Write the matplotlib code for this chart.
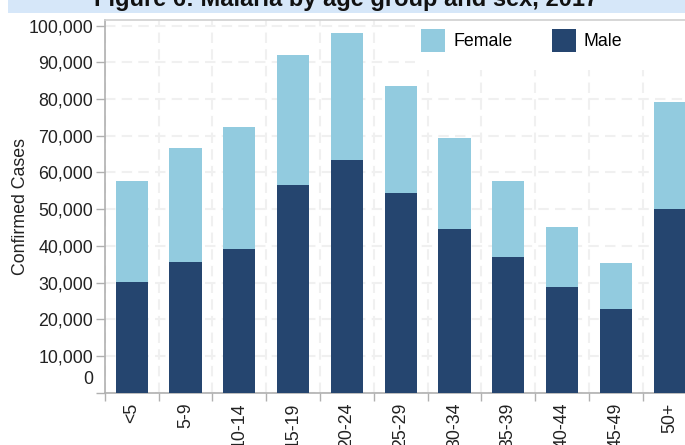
import matplotlib
matplotlib.use("Agg")
import matplotlib.pyplot as plt
from matplotlib.patches import Rectangle
from matplotlib.ticker import FuncFormatter
import numpy as np

# Data
age_groups = ["<5", "5-9", "10-14", "15-19", "20-24", "25-29",
              "30-34", "35-39", "40-44", "45-49", "50+"]
male = [30200, 35600, 39150, 56600, 63400, 54450,
        44600, 37000, 28800, 22800, 50000]
female_total = [57700, 66700, 72400, 92000, 98000, 83600,
                69400, 57700, 45150, 35350, 79200]
female = [t - m for t, m in zip(female_total, male)]
y_ticks = list(range(0, 100001, 10000))

LIGHT = "#92cbdf"
DARK = "#25456f"
GRID = "#f0f0f0"
AXIS = "#b0b0b0"
FS = 12.8

plt.rcParams["font.family"] = ["Liberation Sans", "DejaVu Sans"]

W, H = 685, 445
fig = plt.figure(figsize=(W / 100, H / 100), dpi=100)

# axes in pixel geometry (plot runs past right edge like the original)
left, right, top, bottom = 104.8, 696.6, 19.7, 392.7
ax = fig.add_axes([left / W, 1 - bottom / H, (right - left) / W, (bottom - top) / H])

x = np.arange(len(age_groups))
ax.bar(x, male, width=0.6, color=DARK, label="Male", zorder=3)
ax.bar(x, female, width=0.6, bottom=male, color=LIGHT, label="Female", zorder=3)

ax.set_xlim(-0.5, len(age_groups) - 0.5)
ax.set_ylim(0, 101600)

# y axis
ax.set_yticks(y_ticks)
ax.yaxis.set_major_formatter(FuncFormatter(lambda v, p: "" if v == 0 else f"{int(v):,}"))
ax.tick_params(axis="y", length=6.5, width=1, color=AXIS, pad=2, labelsize=FS, labelcolor="#222222")
ax.annotate("0", xy=(0, 0), xycoords=("axes fraction", "data"),
            xytext=(-12, 13), textcoords="offset pixels",
            ha="right", va="center", fontsize=FS, color="#222222")
ax.set_ylabel("Confirmed Cases", fontsize=FS, labelpad=-0.5, color="#222222")

# x axis: ticks at boundaries, labels at centres
ax.set_xticks(np.arange(len(age_groups) + 1) - 0.5)
ax.set_xticklabels([])
ax.set_xticks(x, minor=True)
ax.set_xticklabels(age_groups, minor=True, rotation=90, fontsize=FS, color="#222222")
ax.tick_params(axis="x", which="major", length=6, width=1, color=AXIS)
ax.tick_params(axis="x", which="minor", length=0, pad=7)

ax.grid(True, which="major", color=GRID, linestyle=(0, (5, 3)), linewidth=1.5, zorder=0)
ax.set_axisbelow(True)

for s in ["left", "bottom", "top"]:
    ax.spines[s].set_color(AXIS)
    ax.spines[s].set_linewidth(1.2)
ax.spines["top"].set_color("#d0d0d0")
ax.spines["right"].set_visible(False)

# white backing behind the legend
ax.add_patch(Rectangle(((415 - left) / (right - left), 1 - (70 - top) / (bottom - top)),
                       1, 1, transform=ax.transAxes, facecolor="white",
                       edgecolor="none", zorder=2))

handles, labels = ax.get_legend_handles_labels()
leg = ax.legend(handles[::-1], labels[::-1], ncol=2, loc="upper left",
                bbox_to_anchor=(416 / W, 1 - 24 / H), bbox_transform=fig.transFigure,
                frameon=False, fontsize=FS, handlelength=1.35, handleheight=1.55,
                handletextpad=0.45, columnspacing=2.2, borderaxespad=0, borderpad=0.3)

# title band, clipped at the top of the image
fig.patches.append(Rectangle((8 / W, 1 - 12.5 / H), 1, 1, transform=fig.transFigure,
                             facecolor="#d6e7f9", edgecolor="none", zorder=0))
fig.text(346 / W, 1 - 6 / H, "Figure 6: Malaria by age group and sex, 2017",
         ha="center", va="baseline", fontsize=17, fontweight="bold", color="#111111")

fig.savefig("out.png", dpi=100)
